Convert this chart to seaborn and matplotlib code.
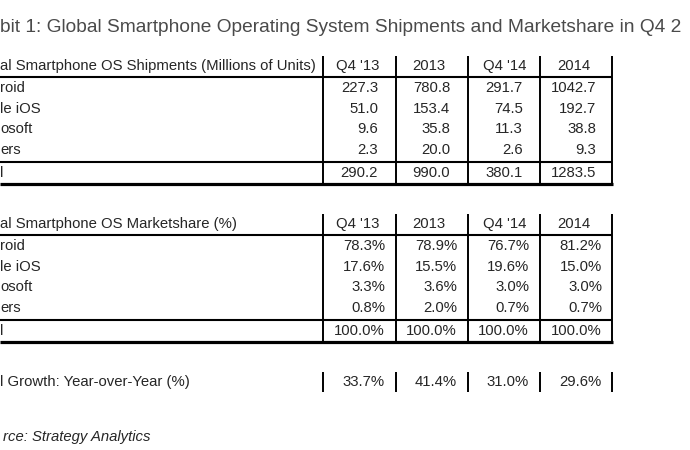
import pandas as pd
import matplotlib.pyplot as plt
import seaborn as sns

# cropped screenshot of a table, so the labels are cut off like in the source
title = "bit 1: Global Smartphone Operating System Shipments and Marketshare in Q4 2"
periods = ["Q4 '13", "2013", "Q4 '14", "2014"]
os_labels = ["roid", "le iOS", "osoft", "ers"]
total_label = "l"

ship_header = "al Smartphone OS Shipments (Millions of Units)"
ship_q4_13 = [227.3, 51.0, 9.6, 2.3]
ship_2013 = [780.8, 153.4, 35.8, 20.0]
ship_q4_14 = [291.7, 74.5, 11.3, 2.6]
ship_2014 = [1042.7, 192.7, 38.8, 9.3]
ship_total = [290.2, 990.0, 380.1, 1283.5]

share_header = "al Smartphone OS Marketshare (%)"
share_q4_13 = [78.3, 17.6, 3.3, 0.8]
share_2013 = [78.9, 15.5, 3.6, 2.0]
share_q4_14 = [76.7, 19.6, 3.0, 0.7]
share_2014 = [81.2, 15.0, 3.0, 0.7]
share_total = [100.0, 100.0, 100.0, 100.0]

growth_label = "l Growth: Year-over-Year (%)"
growth = [33.7, 41.4, 31.0, 29.6]
source = "rce: Strategy Analytics"

ship = pd.DataFrame({"Q4 '13": ship_q4_13, "2013": ship_2013,
                     "Q4 '14": ship_q4_14, "2014": ship_2014}, index=os_labels)
share = pd.DataFrame({"Q4 '13": share_q4_13, "2013": share_2013,
                      "Q4 '14": share_q4_14, "2014": share_2014}, index=os_labels)

sns.set_theme(style="white")
plt.rcParams['font.family'] = ['Liberation Sans', 'DejaVu Sans']

fig = plt.figure(figsize=(6.9, 4.5), dpi=100)
ax = fig.add_axes([0, 0, 1, 1])
ax.set_xlim(0, 690)
ax.set_ylim(450, 0)
ax.axis('off')

txt = '#262626'
fs = 10.7
col_lines = [323, 396, 468, 540, 612]
head_x = [336, 412, 483, 557]


def draw_table(df, totals, header, top, fmt, right_x):
    # row positions in pixels
    head_y = top + 10
    row_y = [top + 32, top + 53, top + 73, top + 94]
    tot_y = top + 117
    ax.vlines(col_lines, top, top + 128, color='black', lw=1.4)
    ax.hlines(top + 21, 0, 612, color='black', lw=1.5)
    ax.hlines(top + 106, 0, 612, color='black', lw=1.5)
    ax.hlines(top + 128, 0, 613, color='black', lw=2.3)
    ax.text(0, head_y, header, fontsize=fs, color=txt, va='center')
    for i, p in enumerate(df.columns):
        ax.text(head_x[i], head_y, p, fontsize=fs, color=txt, va='center')
        for j, lab in enumerate(df.index):
            ax.text(right_x[i], row_y[j], fmt.format(df[p].iloc[j]), fontsize=fs,
                    color=txt, va='center', ha='right')
        ax.text(right_x[i], tot_y, fmt.format(totals[i]), fontsize=fs,
                color=txt, va='center', ha='right')
    for j, lab in enumerate(df.index):
        ax.text(0, row_y[j], lab, fontsize=fs, color=txt, va='center')
    ax.text(0, tot_y, total_label, fontsize=fs, color=txt, va='center')


ax.text(0, 28, title, fontsize=13.8, color='#4a4a4a', va='center')

draw_table(ship, ship_total, ship_header, 56, "{:.1f}", [378, 450, 523, 596])
draw_table(share, share_total, share_header, 214, "{:.1f}%", [385, 457, 529, 602])

# growth row
ax.vlines(col_lines, 372, 392, color='black', lw=1.4)
ax.text(0, 382, growth_label, fontsize=fs, color=txt, va='center')
for i, g in enumerate(growth):
    ax.text([385, 457, 529, 602][i], 382, f"{g:.1f}%", fontsize=fs,
            color=txt, va='center', ha='right')

ax.text(3, 437, source, fontsize=fs, color=txt, va='center', style='italic')

fig.savefig('out.png', dpi=100)
